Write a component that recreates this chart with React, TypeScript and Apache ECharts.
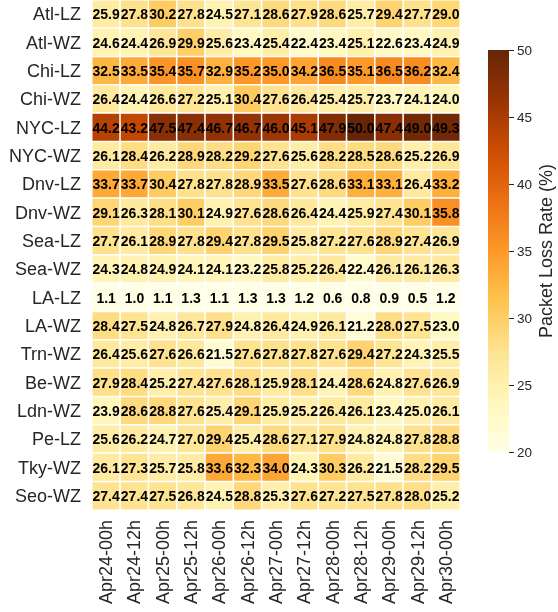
import React, { useEffect, useRef } from "react";
import * as echarts from "echarts";

const ROWS = ["Atl-LZ","Atl-WZ","Chi-LZ","Chi-WZ","NYC-LZ","NYC-WZ","Dnv-LZ","Dnv-WZ","Sea-LZ","Sea-WZ","LA-LZ","LA-WZ","Trn-WZ","Be-WZ","Ldn-WZ","Pe-LZ","Tky-WZ","Seo-WZ"];
const COLS = ["Apr24-00h","Apr24-12h","Apr25-00h","Apr25-12h","Apr26-00h","Apr26-12h","Apr27-00h","Apr27-12h","Apr28-00h","Apr28-12h","Apr29-00h","Apr29-12h","Apr30-00h"];

const ATL_LZ = [25.9,27.8,30.2,27.8,24.5,27.1,28.6,27.9,28.6,25.7,29.4,27.7,29.0];
const ATL_WZ = [24.6,24.4,26.9,29.9,25.6,23.4,25.4,22.4,23.4,25.1,22.6,23.4,24.9];
const CHI_LZ = [32.5,33.5,35.4,35.7,32.9,35.2,35.0,34.2,36.5,35.1,36.5,36.2,32.4];
const CHI_WZ = [26.4,24.4,26.6,27.2,25.1,30.4,27.6,26.4,25.4,25.7,23.7,24.1,24.0];
const NYC_LZ = [44.2,43.2,47.5,47.4,46.7,46.7,46.0,45.1,47.9,50.0,47.4,49.0,49.3];
const NYC_WZ = [26.1,28.4,26.2,28.9,28.2,29.2,27.6,25.6,28.2,28.5,28.6,25.2,26.9];
const DNV_LZ = [33.7,33.7,30.4,27.8,27.8,28.9,33.5,27.6,28.6,33.1,33.1,26.4,33.2];
const DNV_WZ = [29.1,26.3,28.1,30.1,24.9,27.6,28.6,26.4,24.4,25.9,27.4,30.1,35.8];
const SEA_LZ = [27.7,26.1,28.9,27.8,29.4,27.8,29.5,25.8,27.2,27.6,28.9,27.4,26.9];
const SEA_WZ = [24.3,24.8,24.9,24.1,24.1,23.2,25.8,25.2,26.4,22.4,26.1,26.1,26.3];
const LA_LZ = [1.1,1.0,1.1,1.3,1.1,1.3,1.3,1.2,0.6,0.8,0.9,0.5,1.2];
const LA_WZ = [28.4,27.5,24.8,26.7,27.9,24.8,26.4,24.9,26.1,21.2,28.0,27.5,23.0];
const TRN_WZ = [26.4,25.6,27.6,26.6,21.5,27.6,27.8,27.8,27.6,29.4,27.2,24.3,25.5];
const BE_WZ = [27.9,28.4,25.2,27.4,27.6,28.1,25.9,28.1,24.4,28.6,24.8,27.6,26.9];
const LDN_WZ = [23.9,28.6,28.8,27.6,25.4,29.1,25.9,25.2,26.4,26.1,23.4,25.0,26.1];
const PE_LZ = [25.6,26.2,24.7,27.0,29.4,25.4,28.6,27.1,27.9,24.8,24.8,27.8,28.8];
const TKY_WZ = [26.1,27.3,25.7,25.8,33.6,32.3,34.0,24.3,30.3,26.2,21.5,28.2,29.5];
const SEO_WZ = [27.4,27.4,27.5,26.8,24.5,28.8,25.3,27.6,27.2,27.5,27.8,28.0,25.2];

const VALUES = [ATL_LZ,ATL_WZ,CHI_LZ,CHI_WZ,NYC_LZ,NYC_WZ,DNV_LZ,DNV_WZ,SEA_LZ,SEA_WZ,LA_LZ,LA_WZ,TRN_WZ,BE_WZ,LDN_WZ,PE_LZ,TKY_WZ,SEO_WZ];

const VMIN = 20;
const VMAX = 50;
const COLORBAR_TICK = 5;
const COLORS = ["#ffffe5","#fff7bc","#fee391","#fec44f","#fe9929","#ec7014","#cc4c02","#993404","#662506"];

const FONT = "'Liberation Sans', Arial, Helvetica, sans-serif";
const TEXT = "#262626";

export default function App() {
  const ref = useRef<HTMLDivElement>(null);
  useEffect(() => {
    if (!ref.current) return;
    const chart = echarts.init(ref.current, null, { renderer: "svg" });
    const data: number[][] = [];
    VALUES.forEach((row, r) => row.forEach((v, c) => data.push([c, r, v])));
    const cbLeft = 488, cbTop = 50, cbW = 21, cbH = 402;
    chart.setOption({
      animation: false,
      textStyle: { fontFamily: FONT },
      grid: [
        { left: 92, top: 0, width: 368, height: 510 },
        { left: cbLeft, top: cbTop, width: cbW, height: cbH },
      ],
      xAxis: [
        {
          type: "category", data: COLS, gridIndex: 0,
          axisLine: { show: false }, axisTick: { show: false }, splitLine: { show: false },
          axisLabel: { rotate: 90, fontSize: 18, color: TEXT, margin: 10, fontFamily: FONT, interval: 0 },
        },
        { type: "category", data: [""], gridIndex: 1, show: false },
      ],
      yAxis: [
        {
          type: "category", data: ROWS, gridIndex: 0, inverse: true,
          axisLine: { show: false }, axisTick: { show: false }, splitLine: { show: false },
          axisLabel: { fontSize: 18, color: TEXT, margin: 11, fontFamily: FONT, interval: 0 },
        },
        {
          type: "value", gridIndex: 1, min: VMIN, max: VMAX, interval: COLORBAR_TICK, position: "right",
          axisLine: { show: false },
          axisTick: { show: true, length: 5, lineStyle: { color: TEXT, width: 1 } },
          splitLine: { show: false },
          axisLabel: { fontSize: 13.5, color: TEXT, margin: 8, fontFamily: FONT },
          name: "Packet Loss Rate (%)", nameLocation: "middle", nameRotate: 90, nameGap: 28,
          nameTextStyle: { fontSize: 18, color: TEXT, fontFamily: FONT },
        },
      ],
      visualMap: {
        type: "continuous", min: VMIN, max: VMAX, show: false, seriesIndex: 0, dimension: 2,
        inRange: { color: COLORS },
      },
      graphic: [
        {
          type: "rect", z: -1, silent: true,
          shape: { x: cbLeft, y: cbTop, width: cbW, height: cbH },
          style: {
            fill: new echarts.graphic.LinearGradient(0, 1, 0, 0,
              COLORS.map((c, i) => ({ offset: i / (COLORS.length - 1), color: c }))),
          },
        },
      ],
      series: [
        {
          type: "heatmap", xAxisIndex: 0, yAxisIndex: 0, data,
          itemStyle: { borderColor: "#ffffff", borderWidth: 1.5 },
          label: {
            show: true, color: "#000", fontSize: 14, fontWeight: "bold", fontFamily: FONT,
            formatter: (p: any) => (p.value[2] as number).toFixed(1),
          },
          emphasis: { disabled: true },
        },
      ],
    });
    return () => chart.dispose();
  }, []);
  return <div ref={ref} style={{ position: "fixed", left: 0, top: 0, width: 558, height: 612 }} />;
}
